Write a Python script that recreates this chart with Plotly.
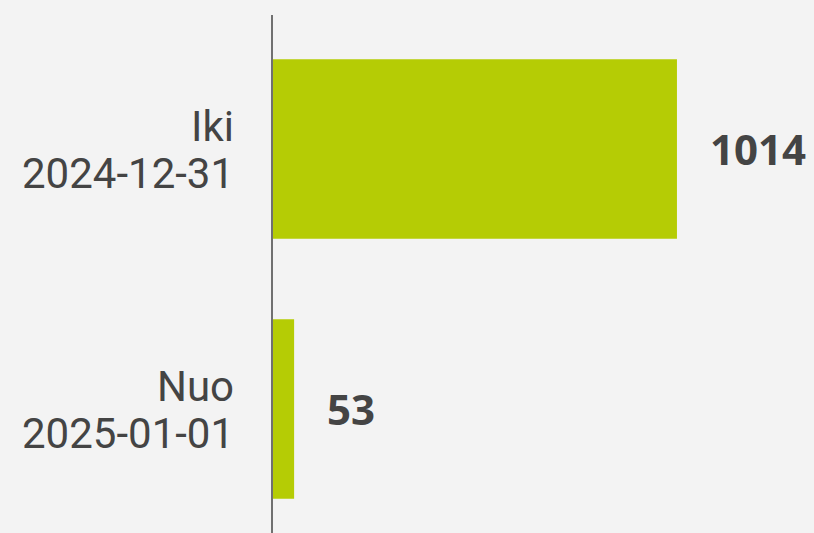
import plotly.graph_objects as go

categories = ["Iki 2024-12-31", "Nuo 2025-01-01"]
label_top = ["Iki", "Nuo"]
label_bottom = ["2024-12-31", "2025-01-01"]
values = [1014, 53]
value_labels = ["1014", "53"]

bar_color = "#b5cc05"
text_color = "#444444"
bg_color = "#f3f3f3"

fig = go.Figure()
fig.add_trace(go.Bar(
    y=categories,
    x=values,
    orientation="h",
    marker=dict(color=bar_color, line=dict(width=0)),
    hoverinfo="skip",
))

# value labels to the right of the bars
for cat, val, lab in zip(categories, values, value_labels):
    fig.add_annotation(
        x=val, y=cat, text="<b>" + lab + "</b>",
        xanchor="left", yanchor="middle", xshift=31, showarrow=False,
        font=dict(family="Open Sans", size=42, color=text_color),
    )

# two-line category labels, tighter than plotly's <br> spacing
for cat, top, bottom in zip(categories, label_top, label_bottom):
    for txt, shift in [(top, 22), (bottom, -25)]:
        fig.add_annotation(
            xref="paper", x=0, y=cat, text=txt,
            xanchor="right", yanchor="middle", xshift=-37, yshift=shift,
            showarrow=False,
            font=dict(family="Roboto", size=42, color=text_color),
        )

fig.update_layout(
    width=814, height=533,
    margin=dict(l=273, r=0, t=15, b=0),
    paper_bgcolor=bg_color, plot_bgcolor=bg_color,
    bargap=0.31,
    showlegend=False,
    xaxis=dict(range=[0, 1358], visible=False, fixedrange=True),
    yaxis=dict(
        range=[1.477, -0.515],
        showline=True, linecolor="#707070", linewidth=2,
        showgrid=False, zeroline=False,
        showticklabels=False, ticks="",
        fixedrange=True,
    ),
)

fig.write_html("out.html", config=dict(displayModeBar=False),
               post_script="document.body.style.margin='0';")
